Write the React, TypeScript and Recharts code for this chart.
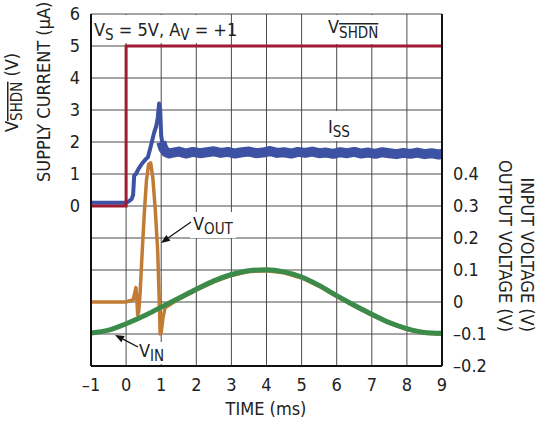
import React from 'react';
import { ComposedChart, Line, XAxis, YAxis, CartesianGrid } from 'recharts';

const FONT = "'Liberation Sans Narrow', 'Arial Narrow', 'DejaVu Sans Condensed', sans-serif";

// axis ticks
const timeTicks = [-1, 0, 1, 2, 3, 4, 5, 6, 7, 8, 9];
const currentTicks = [-5, -4, -3, -2, -1, 0, 1, 2, 3, 4, 5, 6];
const voltTicks = [-0.2, -0.1, 0, 0.1, 0.2, 0.3, 0.4];

// V_SHDN (V)
const shdnTime = [-1, 0, 0, 9];
const shdnVolts = [0, 0, 5, 5];

// I_SS (uA) – turn-on part
const issRiseTime = [-1, -0.5, 0, 0.08, 0.16, 0.2, 0.23, 0.28, 0.35, 0.45, 0.55, 0.62, 0.7, 0.8, 0.86, 0.9, 0.94, 0.97, 1.0, 1.05, 1.12, 1.2];
const issRiseCurrent = [0.1, 0.1, 0.1, 0.15, 0.22, 0.35, 0.95, 1.0, 1.15, 1.32, 1.45, 1.52, 1.85, 2.3, 2.5, 2.75, 3.2, 3.05, 2.2, 1.85, 1.7, 1.66];

// I_SS (uA) – settled, noisy
const issFlatTime = [1.0, 1.06, 1.14, 1.22, 1.3, 1.5, 1.7, 1.9, 2.1, 2.3, 2.5, 2.7, 2.9, 3.1, 3.3, 3.5, 3.7, 3.9, 4.1, 4.3, 4.5, 4.7, 4.9, 5.1,
  5.3, 5.5, 5.7, 5.9, 6.1, 6.3, 6.5, 6.7, 6.9, 7.1, 7.3, 7.5, 7.7, 7.9, 8.1, 8.3, 8.5, 8.7, 8.9, 9];
const issFlatCurrent = [2.0, 1.8, 1.68, 1.64, 1.66, 1.7, 1.64, 1.69, 1.65, 1.68, 1.71, 1.66, 1.69, 1.64, 1.68, 1.7, 1.65, 1.67, 1.72, 1.66, 1.68, 1.64, 1.69, 1.66,
  1.7, 1.65, 1.67, 1.63, 1.68, 1.65, 1.69, 1.64, 1.67, 1.63, 1.68, 1.65, 1.62, 1.66, 1.63, 1.67, 1.62, 1.65, 1.61, 1.63];

// V_OUT (V)
const voutTime = [-1, -0.5, 0, 0.1, 0.2, 0.25, 0.28, 0.3, 0.33, 0.36, 0.4, 0.46, 0.52, 0.58, 0.64, 0.7, 0.76, 0.83, 0.9, 0.94, 0.97,
  1.0, 1.05, 1.11, 1.2, 1.5, 2, 2.5, 3, 3.5, 4, 4.5, 5, 5.5, 6, 6.5, 7, 7.5, 8, 8.5, 9];
const voutVolts = [0, 0, 0, 0.004, 0.006, 0.03, 0.045, 0.02, -0.04, -0.03, 0.03, 0.16, 0.28, 0.38, 0.43, 0.435, 0.39, 0.29, 0.16, 0.02, -0.1,
  -0.095, -0.05, -0.018, -0.012, 0.009, 0.037, 0.063, 0.083, 0.095, 0.098, 0.091, 0.075, 0.049, 0.017, -0.013, -0.041, -0.067, -0.086, -0.098, -0.101];

// V_IN (V)
const vinTime = [-1, -0.5, 0, 0.5, 1, 1.5, 2, 2.5, 3, 3.5, 4, 4.5, 5, 5.5, 6, 6.5, 7, 7.5, 8, 8.5, 9];
const vinVolts = [-0.097, -0.088, -0.068, -0.044, -0.016, 0.012, 0.04, 0.066, 0.086, 0.098, 0.101, 0.094, 0.078, 0.052, 0.02, -0.01, -0.038, -0.064, -0.083, -0.095, -0.098];

const zip = (ts: number[], vs: number[]) => ts.map((t, i) => ({ t, v: vs[i] }));

const fmt = (v: number) => (v < 0 ? '\u2013' + Math.abs(v) : String(v));

const tickStyle = { fill: '#222', fontSize: 18, fontFamily: FONT };

function Arrow({ x1, y1, x2, y2 }: { x1: number; y1: number; x2: number; y2: number }) {
  const a = Math.atan2(y2 - y1, x2 - x1);
  const L = 9, W = 3.5;
  const bx = x2 - L * Math.cos(a), by = y2 - L * Math.sin(a);
  const p1 = `${bx + W * Math.sin(a)},${by - W * Math.cos(a)}`;
  const p2 = `${bx - W * Math.sin(a)},${by + W * Math.cos(a)}`;
  return (
    <g>
      <line x1={x1} y1={y1} x2={bx} y2={by} stroke="#111" strokeWidth={1.3} />
      <polygon points={`${x2},${y2} ${p1} ${p2}`} fill="#111" />
    </g>
  );
}

export default function App() {
  return (
    <div style={{ position: 'absolute', left: 0, top: 0, width: 543, height: 421, background: '#fff' }}>
      <ComposedChart width={543} height={421} margin={{ top: 14, right: 0, bottom: 0, left: 0 }}>
        <CartesianGrid yAxisId="left" stroke="#4a4a4a" strokeWidth={1} />
        <XAxis
          dataKey="t"
          type="number"
          domain={[-1, 9]}
          ticks={timeTicks}
          allowDataOverflow
          height={55}
          tickLine={false}
          tickMargin={6}
          tickFormatter={fmt}
          axisLine={{ stroke: '#111', strokeWidth: 2 }}
          tick={tickStyle}
        />
        <YAxis
          yAxisId="left"
          type="number"
          domain={[-5, 6]}
          ticks={currentTicks}
          allowDataOverflow
          width={91}
          tickLine={false}
          tickMargin={5}
          tickFormatter={(v: number) => (v < 0 ? '' : String(v))}
          axisLine={{ stroke: '#111', strokeWidth: 2 }}
          tick={tickStyle}
        />
        <YAxis
          yAxisId="right"
          orientation="right"
          type="number"
          domain={[-0.2, 0.9]}
          ticks={voltTicks}
          allowDataOverflow
          width={101}
          tickLine={false}
          tickMargin={5}
          tickFormatter={fmt}
          axisLine={{ stroke: '#111', strokeWidth: 2 }}
          tick={tickStyle}
        />
        <Line yAxisId="left" data={zip(issFlatTime, issFlatCurrent)} dataKey="v" type="linear" stroke="#3d52a3" strokeWidth={10} strokeLinejoin="round" dot={false} isAnimationActive={false} />
        <Line yAxisId="left" data={zip(issRiseTime, issRiseCurrent)} dataKey="v" type="linear" stroke="#3d52a3" strokeWidth={4} strokeLinejoin="round" dot={false} isAnimationActive={false} />
        <Line yAxisId="left" data={zip(shdnTime, shdnVolts)} dataKey="v" type="linear" stroke="#9e1b32" strokeWidth={3} dot={false} isAnimationActive={false} />
        <Line yAxisId="right" data={zip(voutTime, voutVolts)} dataKey="v" type="linear" stroke="#c27b35" strokeWidth={3.5} strokeLinejoin="round" dot={false} isAnimationActive={false} />
        <Line yAxisId="right" data={zip(vinTime, vinVolts)} dataKey="v" type="monotone" stroke="#3b8b4a" strokeWidth={5} dot={false} isAnimationActive={false} />
      </ComposedChart>
      <svg width={543} height={421} style={{ position: 'absolute', left: 0, top: 0, pointerEvents: 'none' }} fontFamily={FONT} fill="#222">
        <rect x={92} y={15} width={132} height={28} fill="#fff" />
        <rect x={306} y={15} width={98} height={29} fill="#fff" />
        <rect x={325} y={111} width={28} height={30} fill="#fff" />
        <rect x={190} y={212} width={46} height={26} fill="#fff" />
        <rect x={137} y={342} width={28} height={22} fill="#fff" />

        <text x={94} y={36} fontSize={18}>V<tspan fontSize={15} dy={4}>S</tspan><tspan dy={-4}> = 5V, A</tspan><tspan fontSize={15} dy={4}>V</tspan><tspan dy={-4}> = +1</tspan></text>
        <text x={328} y={33} fontSize={18}>V<tspan fontSize={15} dy={5} textDecoration="overline">SHDN</tspan></text>
        <text x={328} y={133} fontSize={18}>I<tspan fontSize={15} dy={4}>SS</tspan></text>
        <text x={193} y={230} fontSize={18}>V<tspan fontSize={15} dy={4}>OUT</tspan></text>
        <text x={139} y={357} fontSize={18}>V<tspan fontSize={15} dy={4}>IN</tspan></text>

        <Arrow x1={191} y1={222} x2={161} y2={243} />
        <Arrow x1={138} y1={347} x2={115} y2={335} />

        <text transform="translate(18,132) rotate(-90)" fontSize={18}>V<tspan fontSize={15} dy={4} textDecoration="overline">SHDN</tspan><tspan dy={-4}> (V)</tspan></text>
        <text transform="translate(50,182) rotate(-90)" fontSize={18}>SUPPLY CURRENT (µA)</text>
        <text transform="translate(521,332) rotate(90)" fontSize={18} textAnchor="end">INPUT VOLTAGE (V)</text>
        <text transform="translate(499,332) rotate(90)" fontSize={18} textAnchor="end">OUTPUT VOLTAGE (V)</text>
        <text x={266} y={415} fontSize={18} textAnchor="middle">TIME (ms)</text>
      </svg>
    </div>
  );
}
